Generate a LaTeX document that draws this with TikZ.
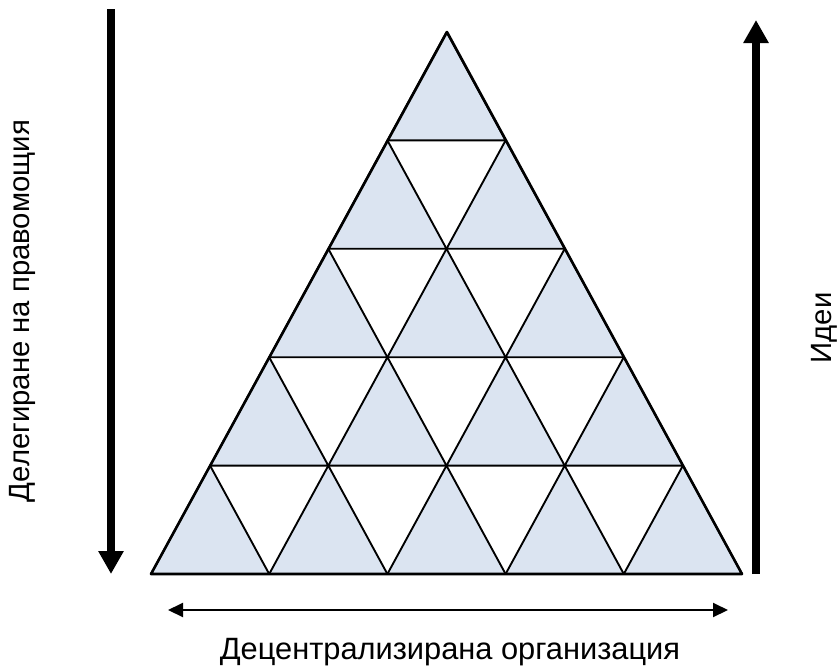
\documentclass[tikz,border=0pt]{standalone}
\usepackage{fontspec}
\setmainfont{Liberation Sans}
\usetikzlibrary{arrows.meta}

\definecolor{cellblue}{RGB}{219,228,241}

\tikzset{
    cell/.style={fill=cellblue, draw=black, line width=1.6pt, line join=round},
    bigarrow/.style={line width=6pt, -{Triangle[width=0.72cm,length=0.69cm]}},
    thinarrow/.style={line width=1.7pt, {Triangle[width=0.42cm,length=0.45cm]}-{Triangle[width=0.42cm,length=0.45cm]}},
    label/.style={font=\fontsize{25}{30}\selectfont, inner sep=0pt}
}

\begin{document}
\begin{tikzpicture}[x=0.03cm,y=-0.03cm]
    \useasboundingbox (0,0) rectangle (839,668);

    % Pyramid of small triangles (row j, position i)
    \foreach \j in {0,...,4}{
        \pgfmathtruncatemacro{\last}{4-\j}
        \foreach \i in {0,...,\last}{
            \draw[cell] ({151+118.2*\i+59.1*\j},{574-108.4*\j})
                -- ({151+118.2*(\i+1)+59.1*\j},{574-108.4*\j})
                -- ({151+118.2*\i+59.1*(\j+1)},{574-108.4*(\j+1)}) -- cycle;
        }
    }

    % Outline of the pyramid
    \coordinate (baseL) at (151,574);
    \coordinate (baseR) at (742,574);
    \coordinate (apex) at (447,32);
    \draw[line width=2.2pt, line join=round] (baseL) -- (baseR) -- (apex) -- cycle;

    % Delegation arrow (down)
    \coordinate (delTop) at (111,9);
    \coordinate (delBot) at (111,574);
    \draw[bigarrow] (delTop) -- (delBot);
    \node[label, rotate=90] (deleg) at (22,311) {Делегиране на правомощия};

    % Ideas arrow (up)
    \coordinate (ideaBot) at (756,574);
    \coordinate (ideaTop) at (756,20);
    \draw[bigarrow] (ideaBot) -- (ideaTop);
    \node[label, rotate=90] (ideas) at (824,328) {Идеи};

    % Decentralisation arrow
    \coordinate (decL) at (168,610);
    \coordinate (decR) at (728,610);
    \draw[thinarrow] (decL) -- (decR);
    \node[label, font=\fontsize{26.3}{31}\selectfont] (decentr) at (450,652) {Децентрализирана организация};
\end{tikzpicture}
\end{document}
